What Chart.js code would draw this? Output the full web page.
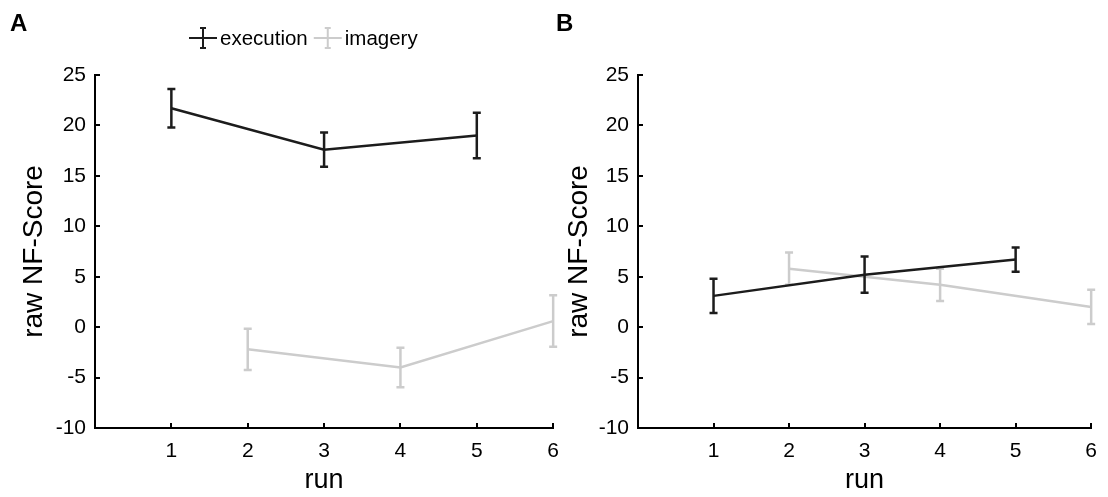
<!doctype html>
<html>
<head>
<meta charset="UTF-8">
<title>raw NF-Score per run</title>
<script src="https://cdn.jsdelivr.net/npm/chart.js@4.4.1/dist/chart.umd.min.js"></script>
<style>
    body { margin: 0; background: #fff; width: 1108px; height: 497px; position: relative; overflow: hidden; }
    .panel { position: absolute; top: 0; height: 497px; }
    #panelA { left: 0; width: 570px; }
    #panelB { left: 545px; width: 563px; }
</style>
</head>
<body>
<div class="panel" id="panelA"><canvas id="chartA" width="570" height="497"></canvas></div>
<div class="panel" id="panelB"><canvas id="chartB" width="563" height="497"></canvas></div>
<script>
    // runs at which each condition was measured
    var execRuns = [1, 3, 5];
    var imagRuns = [2, 4, 6];

    // panel A
    var execA = [21.7, 17.6, 19.0];
    var execErrA = [1.9, 1.7, 2.25];
    var imagA = [-2.2, -4.0, 0.6];
    var imagErrA = [2.05, 1.95, 2.55];

    // panel B
    var execB = [3.1, 5.2, 6.7];
    var execErrB = [1.7, 1.8, 1.2];
    var imagB = [5.8, 4.2, 2.0];
    var imagErrB = [1.6, 1.6, 1.7];

    var seriesNames = ['execution', 'imagery'];
    var execColor = '#1c1c1c';
    var imagColor = '#cccccc';

    Chart.defaults.font.family = "'Liberation Sans', Arial, Helvetica, sans-serif";
    Chart.defaults.color = '#000';

    function points(xs, ys) {
        return xs.map(function (x, i) { return {x: x, y: ys[i]}; });
    }

    // vertical error bars, drawn right after their own line
    var errorBars = {
        id: 'errorBars',
        afterDatasetDraw: function (chart, args) {
            var ds = chart.data.datasets[args.index];
            if (!ds.errors) return;
            var ctx = chart.ctx, xs = chart.scales.x, ys = chart.scales.y;
            ctx.save();
            ctx.strokeStyle = ds.borderColor;
            ctx.lineWidth = 2.5;
            ds.data.forEach(function (p, i) {
                var x = xs.getPixelForValue(p.x);
                var top = ys.getPixelForValue(p.y + ds.errors[i]);
                var bot = ys.getPixelForValue(p.y - ds.errors[i]);
                ctx.beginPath();
                ctx.moveTo(x, top); ctx.lineTo(x, bot);
                ctx.moveTo(x - 4, top); ctx.lineTo(x + 4, top);
                ctx.moveTo(x - 4, bot); ctx.lineTo(x + 4, bot);
                ctx.stroke();
            });
            ctx.restore();
        }
    };

    // matlab style ticks pointing into the plot, panel letter, legend
    var decorations = {
        id: 'decorations',
        afterDraw: function (chart, args, opts) {
            var ctx = chart.ctx, a = chart.chartArea, xs = chart.scales.x, ys = chart.scales.y;
            ctx.save();
            ctx.strokeStyle = '#000';
            ctx.lineWidth = 2;
            ctx.beginPath();
            ys.ticks.forEach(function (t) {
                var y = Math.round(ys.getPixelForValue(t.value));
                ctx.moveTo(a.left, y); ctx.lineTo(a.left + 5, y);
            });
            xs.ticks.forEach(function (t) {
                if (t.value === 0) return;
                var x = Math.round(xs.getPixelForValue(t.value));
                ctx.moveTo(x, a.bottom); ctx.lineTo(x, a.bottom - 5);
            });
            ctx.stroke();

            ctx.fillStyle = '#000';
            ctx.font = "bold 24px 'Liberation Sans', Arial, sans-serif";
            ctx.textBaseline = 'alphabetic';
            ctx.textAlign = 'left';
            ctx.fillText(opts.letter, opts.letterX, 31);

            if (opts.legend) {
                var x = opts.legendX, y = opts.legendY;
                ctx.font = "20.5px 'Liberation Sans', Arial, sans-serif";
                ctx.textBaseline = 'middle';
                chart.data.datasets.forEach(function (ds) {
                    ctx.strokeStyle = ds.borderColor;
                    ctx.lineWidth = 2;
                    ctx.beginPath();
                    ctx.moveTo(x, y); ctx.lineTo(x + 28, y);
                    ctx.moveTo(x + 14, y - 10); ctx.lineTo(x + 14, y + 10);
                    ctx.moveTo(x + 11, y - 10); ctx.lineTo(x + 17, y - 10);
                    ctx.moveTo(x + 11, y + 10); ctx.lineTo(x + 17, y + 10);
                    ctx.stroke();
                    ctx.fillStyle = '#000';
                    ctx.fillText(ds.label, x + 31, y + 1);
                    x += 31 + ctx.measureText(ds.label).width + 6;
                });
            }
            ctx.restore();
        }
    };

    function makeChart(id, exec, execErr, imag, imagErr, deco, padRight) {
        var ctx = document.getElementById(id).getContext('2d');
        return new Chart(ctx, {
            type: 'line',
            data: {
                datasets: [
                    {
                        label: seriesNames[0],
                        data: points(execRuns, exec),
                        errors: execErr,
                        borderColor: execColor,
                        borderWidth: 2.5,
                        pointRadius: 0,
                        fill: false
                    },
                    {
                        label: seriesNames[1],
                        data: points(imagRuns, imag),
                        errors: imagErr,
                        borderColor: imagColor,
                        borderWidth: 2.5,
                        pointRadius: 0,
                        fill: false
                    }
                ]
            },
            options: {
                responsive: false,
                animation: false,
                layout: { padding: { left: 0, right: padRight, top: 75, bottom: 0 } },
                plugins: {
                    legend: { display: false },
                    tooltip: { enabled: false },
                    decorations: deco
                },
                scales: {
                    x: {
                        type: 'linear',
                        min: 0,
                        max: 6,
                        grid: { display: false, drawTicks: false },
                        border: { display: true, color: '#000', width: 2 },
                        ticks: {
                            stepSize: 1,
                            autoSkip: false,
                            maxRotation: 0,
                            padding: 11,
                            font: { size: 21 },
                            callback: function (v) { return v === 0 ? '' : v; }
                        },
                        title: { display: true, text: 'run', font: { size: 27 }, padding: { top: 0, bottom: 0 } },
                        afterFit: function (s) { s.height = 69; }
                    },
                    y: {
                        min: -10,
                        max: 25,
                        grid: { display: false, drawTicks: false },
                        border: { display: true, color: '#000', width: 2 },
                        ticks: { stepSize: 5, padding: 9, font: { size: 21 } },
                        title: { display: true, text: 'raw NF-Score', font: { size: 28 }, padding: { top: 17, bottom: 0 } },
                        afterFit: function (s) { s.width = deco.axisWidth; }
                    }
                }
            },
            plugins: [errorBars, decorations]
        });
    }

    makeChart('chartA', execA, execErrA, imagA, imagErrA,
        { letter: 'A', letterX: 10, legend: true, legendX: 189, legendY: 38, axisWidth: 95 }, 16);
    makeChart('chartB', execB, execErrB, imagB, imagErrB,
        { letter: 'B', letterX: 11, legend: false, axisWidth: 93 }, 10);
</script>
</body>
</html>
